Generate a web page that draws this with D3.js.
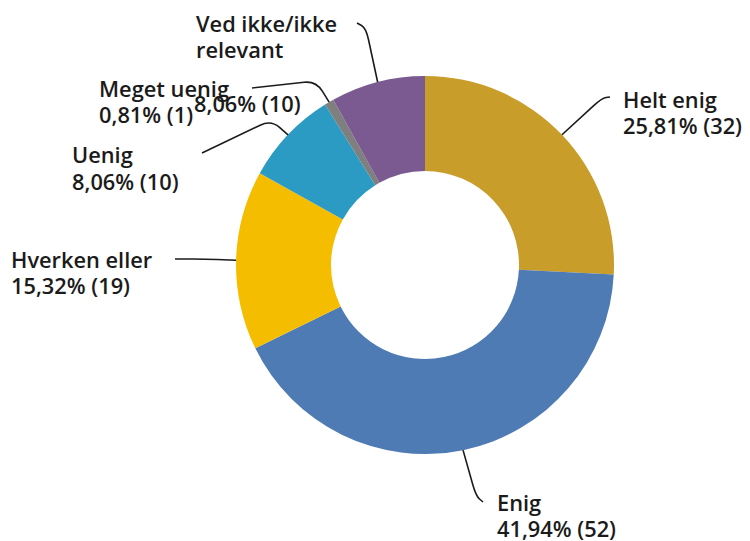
<!DOCTYPE html>
<html>
<head>
<meta charset="utf-8">
<script src="https://cdn.jsdelivr.net/npm/d3@7"></script>
<style>
  html, body { margin: 0; padding: 0; background: #ffffff; }
  svg { display: block; }
  .lbl { font-family: "Open Sans", "Noto Sans", sans-serif; font-weight: 600; font-size: 21.8px; fill: #1b1b1b; }
</style>
</head>
<body>
<svg id="chart" width="750" height="541"></svg>
<script>
// Survey answers, clockwise from 12 o'clock
const categories = ["Helt enig", "Enig", "Hverken eller", "Uenig", "Meget uenig", "Ved ikke/ikke relevant"];
const counts = [32, 52, 19, 10, 1, 10];
const colors = ["#C99D2A", "#4E7BB4", "#F5BD00", "#2B9BC4", "#7F7F7F", "#7A5A90"];

// How each category name wraps onto lines
const nameLines = [["Helt enig"], ["Enig"], ["Hverken eller"], ["Uenig"], ["Meget uenig"], ["Ved ikke/ikke", "relevant"]];

// Label placement: name block origin, value line origin, and leader line route (label end, bend)
const labelLayout = [
  { x: 623, y: 108, vx: 623, vy: 134, lead: [[610, 97], [602, 98]] },
  { x: 497, y: 511, vx: 497, vy: 537, lead: [[483, 502], [476, 496]] },
  { x: 11,  y: 268, vx: 11,  vy: 294, lead: [[175, 259], [205, 259]] },
  { x: 72,  y: 163, vx: 72,  vy: 190, lead: [[202, 153], [271, 120]] },
  { x: 99,  y: 97,  vx: 99,  vy: 123, lead: [[252, 88], [316, 81]] },
  { x: 196, y: 32,  vx: 194, vy: 112, lead: [[357, 23], [366, 28]] }
];

const cx = 425, cy = 265, rOuter = 189, rInner = 94;
const lineGap = 26;

const total = d3.sum(counts);
const fmtPct = v => d3.format(".2f")(v * 100).replace(".", ",") + "%";

const data = categories.map((c, i) => ({ name: c, count: counts[i], color: colors[i], lines: nameLines[i], lay: labelLayout[i] }));

const svg = d3.select("#chart");
const g = svg.append("g").attr("transform", `translate(${cx},${cy})`);

const pie = d3.pie().value(d => d.count).sort(null);
const arc = d3.arc().innerRadius(rInner).outerRadius(rOuter);
const arcs = pie(data);

g.selectAll("path.slice")
  .data(arcs)
  .join("path")
  .attr("class", "slice")
  .attr("d", arc)
  .attr("fill", d => d.data.color);

// Polyline with rounded corners at interior points
function roundedPath(pts, rad) {
  const p = d3.path();
  p.moveTo(pts[0][0], pts[0][1]);
  for (let i = 1; i < pts.length - 1; i++) {
    const [ax, ay] = pts[i - 1], [bx, by] = pts[i], [nx, ny] = pts[i + 1];
    const d1 = Math.hypot(bx - ax, by - ay), d2 = Math.hypot(nx - bx, ny - by);
    const r1 = Math.min(rad, d1 / 2), r2 = Math.min(rad, d2 / 2);
    const sx = bx - (bx - ax) / d1 * r1, sy = by - (by - ay) / d1 * r1;
    const ex = bx + (nx - bx) / d2 * r2, ey = by + (ny - by) / d2 * r2;
    p.lineTo(sx, sy);
    p.quadraticCurveTo(bx, by, ex, ey);
  }
  const last = pts[pts.length - 1];
  p.lineTo(last[0], last[1]);
  return p.toString();
}

// Leader lines from label to the outer edge at the slice's mid angle
svg.selectAll("path.leader")
  .data(arcs)
  .join("path")
  .attr("class", "leader")
  .attr("fill", "none")
  .attr("stroke", "#1b1b1b")
  .attr("stroke-width", 1.6)
  .attr("d", d => {
    const a = (d.startAngle + d.endAngle) / 2;
    const edge = [cx + rOuter * Math.sin(a), cy - rOuter * Math.cos(a)];
    const pts = d.data.lay.lead.concat([edge]);
    return roundedPath(pts, 12);
  });

// Category names and value labels
const labels = svg.selectAll("g.label")
  .data(arcs)
  .join("g")
  .attr("class", "label");

labels.each(function(d) {
  const sel = d3.select(this);
  const lay = d.data.lay;
  d.data.lines.forEach((ln, j) => {
    sel.append("text").attr("class", "lbl")
      .attr("x", lay.x).attr("y", lay.y + j * lineGap)
      .text(ln);
  });
  sel.append("text").attr("class", "lbl")
    .attr("x", lay.vx).attr("y", lay.vy)
    .text(`${fmtPct(d.data.count / total)} (${d.data.count})`);
});
</script>
</body>
</html>
